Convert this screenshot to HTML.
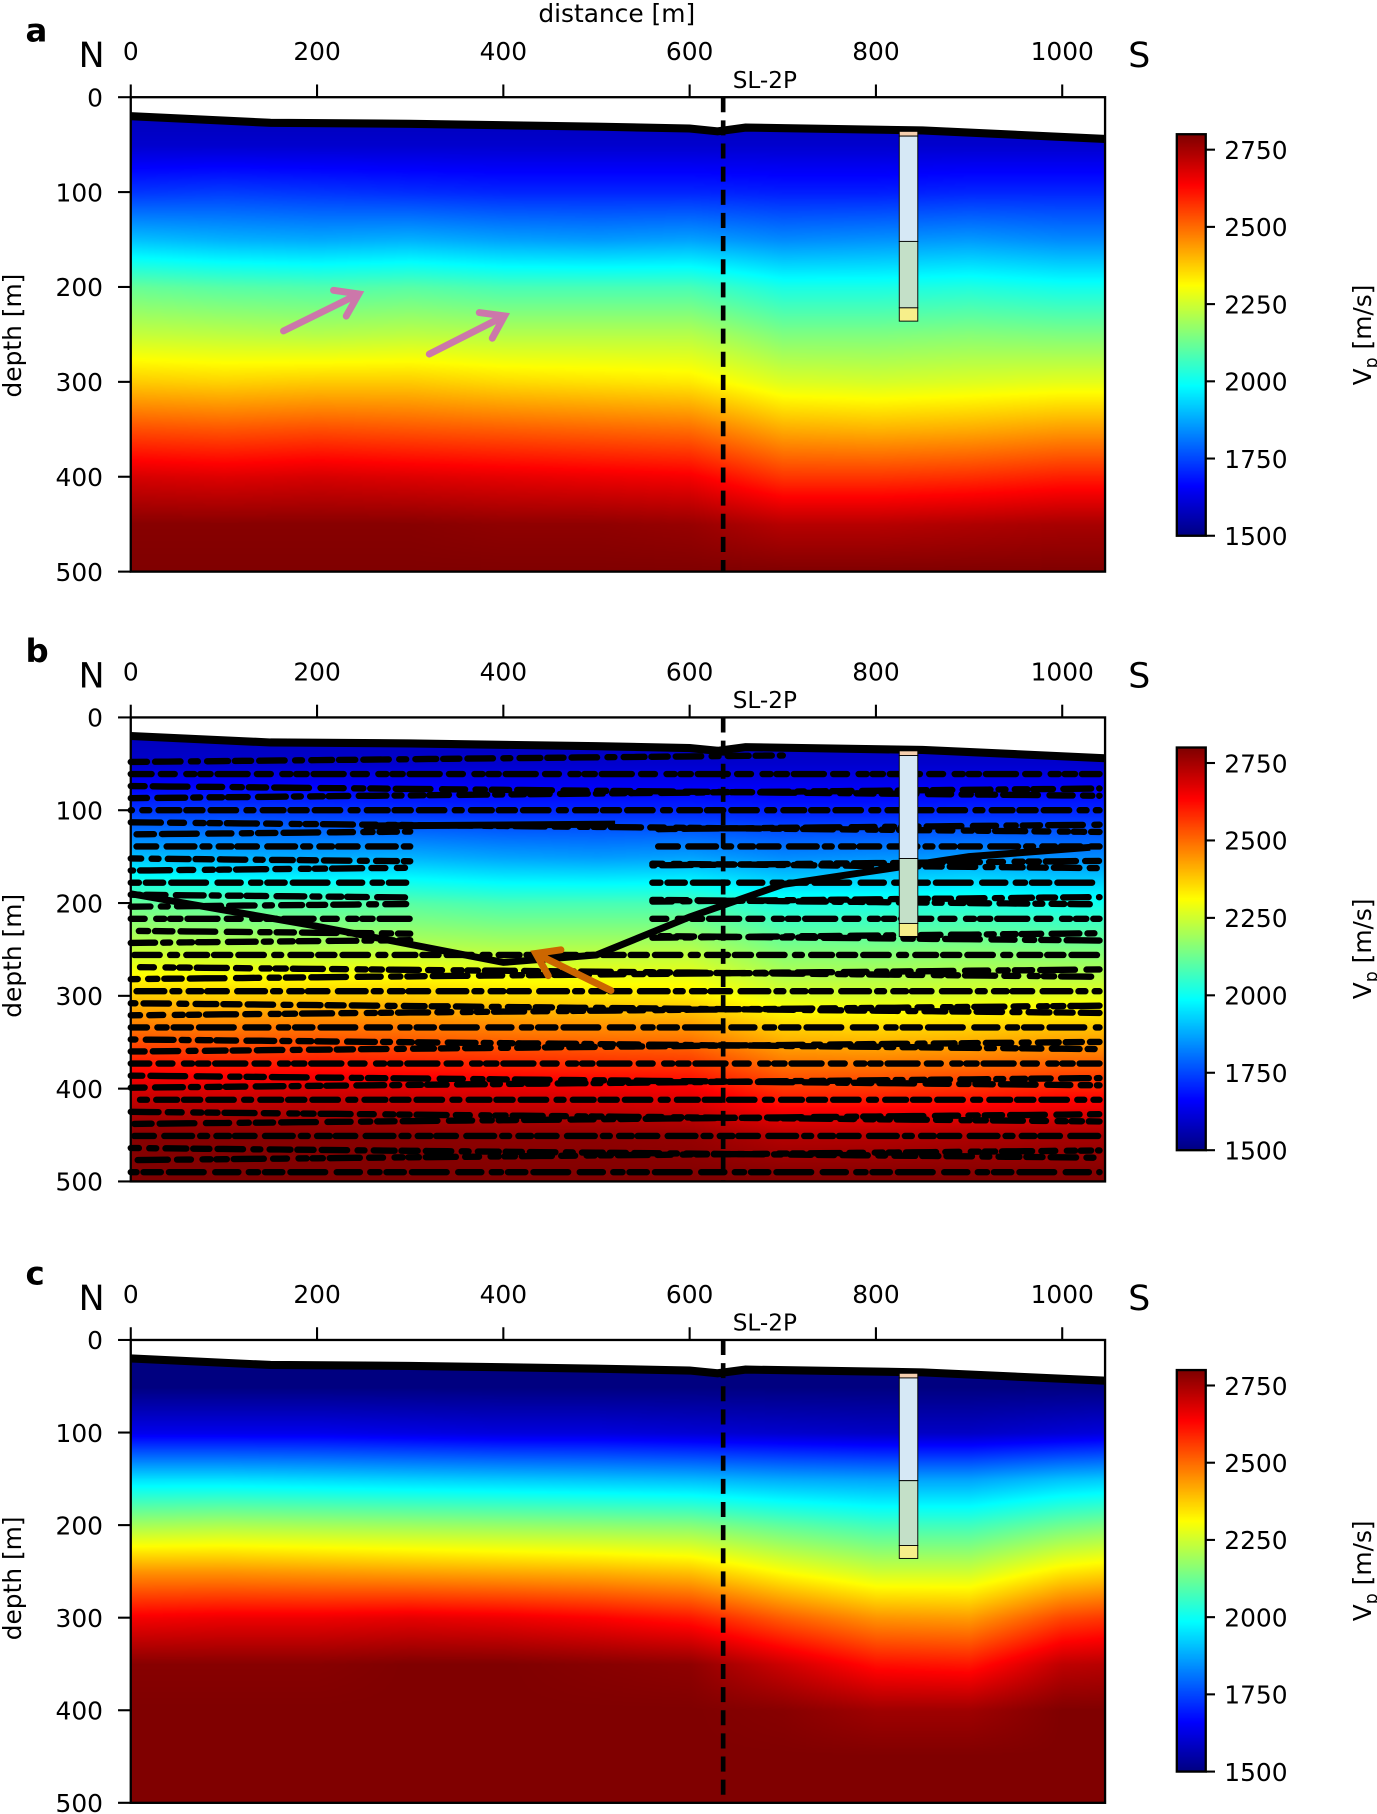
<!DOCTYPE html>
<html><head><meta charset="utf-8">
<style>
html,body{margin:0;padding:0;background:#fff;width:1377px;height:1814px;overflow:hidden}
#wrap{position:absolute;left:0;top:0;width:1190px;height:1568px;transform:scale(1.15714);transform-origin:0 0}
canvas{position:absolute}
svg{position:absolute;left:0;top:0}
text{font-family:"DejaVu Sans","Liberation Sans",sans-serif;fill:#000}
</style></head>
<body>
<div id="wrap">
<canvas id="ca" width="842" height="410" style="left:113px;top:84px"></canvas>
<canvas id="cb" width="842" height="401" style="left:113px;top:620px"></canvas>
<canvas id="cc" width="842" height="400" style="left:113px;top:1158px"></canvas>
<canvas id="cba" width="25" height="347" style="left:1017px;top:116px"></canvas>
<canvas id="cbb" width="25" height="348" style="left:1017px;top:646px"></canvas>
<canvas id="cbc" width="25" height="347" style="left:1017px;top:1184px"></canvas>
<svg id="sv" width="1190" height="1568" viewBox="0 0 1190 1568"></svg>
</div>
<script>
// ---- data ----
const colX = [0,100,200,300,400,500,600,700,800,900,1000,1050];
const depthNodes = [0,50,100,150,200,250,300,350,400,450,500];
const velA = [
 [1560,1600,1730,1910,2120,2240,2380,2540,2690,2790,2800],
 [1560,1600,1740,1890,2100,2230,2370,2530,2680,2790,2800],
 [1560,1600,1730,1880,2090,2220,2380,2540,2690,2790,2800],
 [1560,1600,1720,1890,2100,2230,2380,2530,2680,2790,2800],
 [1560,1600,1710,1870,2080,2220,2360,2520,2670,2780,2800],
 [1560,1600,1710,1860,2080,2220,2350,2510,2660,2780,2800],
 [1560,1600,1710,1870,2080,2220,2340,2500,2650,2770,2800],
 [1560,1600,1700,1840,2020,2150,2270,2420,2570,2730,2800],
 [1560,1600,1700,1850,2020,2150,2260,2410,2570,2730,2800],
 [1560,1600,1710,1860,2030,2160,2270,2420,2580,2740,2800],
 [1560,1600,1710,1840,2010,2150,2280,2440,2600,2750,2800],
 [1560,1600,1710,1840,2010,2150,2280,2440,2600,2750,2800]];
const velC = [
 [1500,1500,1640,1950,2200,2450,2650,2790,2800,2800,2800],
 [1500,1500,1640,1950,2210,2450,2660,2790,2800,2800,2800],
 [1500,1500,1640,1940,2200,2440,2660,2790,2800,2800,2800],
 [1500,1500,1630,1930,2190,2430,2670,2800,2800,2800,2800],
 [1500,1500,1620,1920,2180,2420,2660,2800,2800,2800,2800],
 [1500,1500,1620,1910,2170,2410,2640,2790,2800,2800,2800],
 [1500,1500,1610,1900,2160,2390,2610,2780,2800,2800,2800],
 [1500,1500,1600,1880,2110,2310,2520,2700,2790,2800,2800],
 [1500,1500,1590,1870,2070,2250,2450,2620,2760,2800,2800],
 [1500,1500,1590,1870,2070,2250,2440,2610,2760,2800,2800],
 [1500,1500,1610,1910,2130,2340,2550,2720,2800,2800,2800],
 [1500,1500,1620,1920,2150,2360,2570,2730,2800,2800,2800]];
const surfX = [0,150,300,500,600,630,660,850,1046];
const surfD = [20,27,28,31,33,36,32,35,44];
const xTicks = [0,200,400,600,800,1000];
const yTicks = [0,100,200,300,400,500];
const cbTicks = [1500,1750,2000,2250,2500,2750];
const wellX = 835;
const wellSegs = [[36,41,'#f5cfae'],[41,152,'#d6e8f5'],[152,222,'#c4e0c8'],[222,236,'#f7ef8a']];
const boreX = 636;
const vMin = 1500, vMax = 2800;

// ---- geometry ----
const X0=113, PW=842, XMAX=1046;
const panels=[{id:'ca',top:84,h:410,vel:velA,label:'a',cbTop:116,cbH:347},
              {id:'cb',top:620,h:401,vel:velA,label:'b',cbTop:646,cbH:348},
              {id:'cc',top:1158,h:400,vel:velC,label:'c',cbTop:1184,cbH:347}];
const sx = m => X0 + m/XMAX*PW;

function jet(t){t=Math.max(0,Math.min(1,t));
 const f=x=>Math.max(0,Math.min(1,x));
 return [f(1.5-Math.abs(4*t-3)),f(1.5-Math.abs(4*t-2)),f(1.5-Math.abs(4*t-1))].map(v=>Math.round(v*255));}
function interp(xs,ys,x){if(x<=xs[0])return ys[0];for(let i=1;i<xs.length;i++)if(x<=xs[i]){const t=(x-xs[i-1])/(xs[i]-xs[i-1]);return ys[i-1]+t*(ys[i]-ys[i-1]);}return ys[ys.length-1];}
function velAt(vel,x,d){const col=vel.map(c=>interp(depthNodes,c,d));return interp(colX,col,x);}

panels.forEach(p=>{
 const c=document.getElementById(p.id),ctx=c.getContext('2d');const img=ctx.createImageData(PW,p.h);
 for(let j=0;j<p.h;j++){const d=j/p.h*500;
  for(let i=0;i<PW;i++){const x=i/PW*XMAX;const k=(j*PW+i)*4;
   const sd=interp(surfX,surfD,x);
   let col=d<sd?[255,255,255]:jet((velAt(p.vel,x,d)-vMin)/(vMax-vMin));
   img.data[k]=col[0];img.data[k+1]=col[1];img.data[k+2]=col[2];img.data[k+3]=255;}}
 ctx.putImageData(img,0,0);
});
['cba','cbb','cbc'].forEach(id=>{const c=document.getElementById(id),ctx=c.getContext('2d');
 for(let j=0;j<c.height;j++){const col=jet(1-j/c.height);ctx.fillStyle=`rgb(${col})`;ctx.fillRect(0,j,25,1);}});

const NS='http://www.w3.org/2000/svg';const sv=document.getElementById('sv');
function mk(tag,attrs,parent,txt){const e=document.createElementNS(NS,tag);for(const k in attrs)e.setAttribute(k,attrs[k]);if(txt!==undefined)e.textContent=txt;(parent||sv).appendChild(e);return e;}

// reflectivity texture for panel b
(function(){const p=panels[1];const g=mk('g',{});
 
 
 const sy=d=>p.top+d/500*p.h;
 const dashes=['14 7 22 9 6 8 18 6','9 6 26 8 12 10 7 5','20 9 8 6 15 7 30 10','11 5 17 9 24 7 6 8'];
 let r=0;
 for(let d=48;d<=495;d+=13,r++){
  const segs=(d>118&&d<245)?[[0,300],[560,XMAX]]:[[0,XMAX]];
  segs.forEach(s=>{
   let pts=[];for(let x=s[0];x<=s[1];x+=20){const sd=interp(surfX,surfD,x);const dd=d+0.02*x*((r%3)-1)*0.5;if(dd>sd+8)pts.push(sx(x).toFixed(1)+','+sy(dd).toFixed(1));}
   if(pts.length>1)mk('polyline',{points:pts.join(' '),fill:'none',stroke:'#000','stroke-width':5.5,'stroke-linecap':'round','stroke-dasharray':dashes[r%4],'stroke-dashoffset':(r*23)%50},g);
  });}
 const mainX=[0,200,400,500,600,700,900,1030], mainD=[190,225,264,256,215,180,150,140];
 mk('polyline',{points:mainX.map((x,i)=>sx(x)+','+sy(mainD[i])).join(' '),fill:'none',stroke:'#000','stroke-width':6},g);
 mk('polyline',{points:[[250,117],[520,115]].map(q=>sx(q[0])+','+sy(q[1])).join(' '),fill:'none',stroke:'#000','stroke-width':6},g);
})();

panels.forEach((p,pi)=>{
 const g=mk('g',{});
 
 
 const sy=d=>p.top+d/500*p.h;
 const sl=mk('polyline',{points:surfX.map((x,i)=>sx(x)+','+sy(surfD[i])).join(' '),fill:'none',stroke:'#000','stroke-width':7},g);
 
 
 wellSegs.forEach(s=>{const r=mk('rect',{x:sx(wellX)-8,y:sy(s[0]),width:16,height:sy(s[1])-sy(s[0]),fill:s[2],stroke:'#000','stroke-width':0.8},g);
  
  });
 const bl=mk('line',{x1:sx(boreX),x2:sx(boreX),y1:p.top,y2:p.top+p.h,stroke:'#000','stroke-width':4,'stroke-dasharray':'13 7'},g);
 
 
 const lb=mk('text',{x:sx(boreX)+36,y:p.top-8,'font-size':20,'text-anchor':'middle'},g,'SL-2P');
 
 
 mk('rect',{x:X0,y:p.top,width:PW,height:p.h,fill:'none',stroke:'#000','stroke-width':2},g);
 xTicks.forEach(v=>{mk('line',{x1:sx(v),x2:sx(v),y1:p.top,y2:p.top-11,stroke:'#000','stroke-width':1.8},g);
  const t=mk('text',{x:sx(v),y:p.top-32,'font-size':21.5,'text-anchor':'middle'},g,String(v));
  
  });
 yTicks.forEach(v=>{mk('line',{x1:X0,x2:X0-11,y1:sy(v),y2:sy(v),stroke:'#000','stroke-width':1.8},g);
  const t=mk('text',{x:X0-24,y:sy(v)+8,'font-size':21.5,'text-anchor':'end'},g,String(v));
  
  });
 const yl=mk('text',{x:0,y:0,'font-size':21.5,'text-anchor':'middle',transform:`translate(18,${p.top+206}) rotate(-90)`},g,'depth [m]');
 
 
 const pl=mk('text',{x:22,y:p.top-48,'font-size':28,'font-weight':'bold'},g,p.label);
 
 
 const nl=mk('text',{x:68,y:p.top-26,'font-size':30},g,'N');
 
 
 const slb=mk('text',{x:975,y:p.top-26,'font-size':30},g,'S');
 
 
 const cy=v=>p.cbTop+p.cbH*(1-(v-vMin)/(vMax-vMin));
 mk('rect',{x:1017,y:p.cbTop,width:25,height:p.cbH,fill:'none',stroke:'#000','stroke-width':2},g);
 cbTicks.forEach(v=>{mk('line',{x1:1042,x2:1050,y1:cy(v),y2:cy(v),stroke:'#000','stroke-width':1.8},g);
  const t=mk('text',{x:1058,y:cy(v)+8,'font-size':21.5},g,String(v));
  
  });
 const ct=mk('text',{x:0,y:0,'font-size':21.5,'text-anchor':'middle',transform:`translate(1185,${p.cbTop+p.cbH/2}) rotate(-90)`},g);
 
 
 mk('tspan',{},ct,'V');mk('tspan',{'font-size':15,dy:5},ct,'p');mk('tspan',{dy:-5},ct,' [m/s]');
});
const dt=mk('text',{x:533,y:19,'font-size':21.5,'text-anchor':'middle'},sv,'distance [m]');


function arrow(x1,y1,x2,y2,col,name){const g=mk('g',{});
 
 
 const a=Math.atan2(y2-y1,x2-x1),L=22;
 mk('line',{x1,y1,x2:x2-Math.cos(a)*3,y2:y2-Math.sin(a)*3,stroke:col,'stroke-width':6,'stroke-linecap':'round'},g);
 mk('polyline',{points:`${x2-L*Math.cos(a-0.6)},${y2-L*Math.sin(a-0.6)} ${x2},${y2} ${x2-L*Math.cos(a+0.6)},${y2-L*Math.sin(a+0.6)}`,fill:'none',stroke:col,'stroke-width':6,'stroke-linecap':'round'},g);}
arrow(245,286,310,254,'#cc77aa','pink-arrow-1');
arrow(371,306,436,273,'#cc77aa','pink-arrow-2');
arrow(528,856,463,824,'#cc6600','orange-arrow');
</script>
</body></html>
